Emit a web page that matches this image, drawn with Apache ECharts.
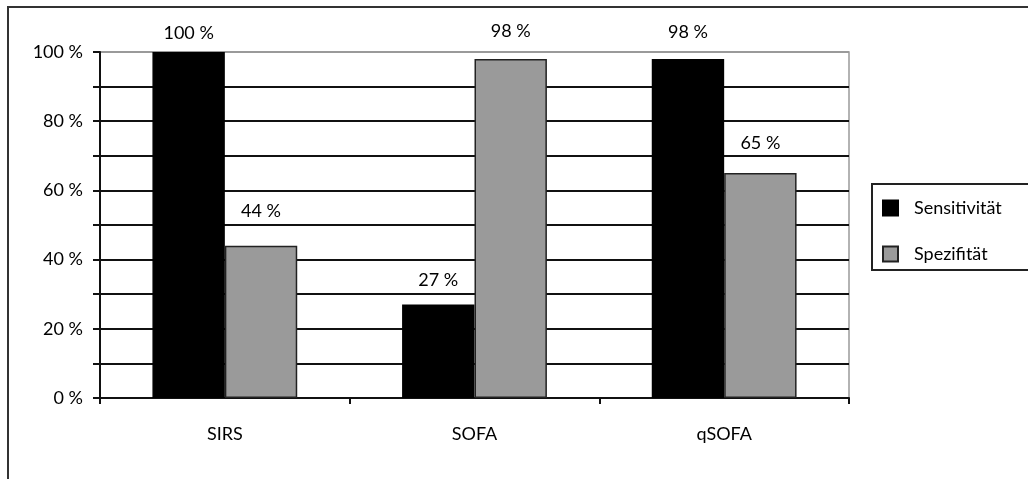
<!DOCTYPE html>
<html>
<head>
<meta charset="utf-8">
<script src="https://cdn.jsdelivr.net/npm/echarts@6/dist/echarts.min.js"></script>
<style>
  html, body { margin: 0; padding: 0; background: #fff; }
  #chart { width: 1028px; height: 479px; }
</style>
</head>
<body>
<div id="chart"></div>
<script>
// Scores compared
const categories = ['SIRS', 'SOFA', 'qSOFA'];
// Percent values per score
const sensitivity = [100, 27, 98];
const specificity = [44, 98, 65];
// Y axis labels at each 20 % step
const yTickLabels = ['0 %', '20 %', '40 %', '60 %', '80 %', '100 %'];

// Gap between each bar top and its value label (px)
const sensLabelGap = [10, 15, 18];
const specLabelGap = [26, 19, 21];

const FONT = 'Lato, "Open Sans", sans-serif';
const FS = 18;
const labelStyle = { color: '#000', fontSize: FS, fontFamily: FONT, lineHeight: 18 };

function withLabels(values, gaps) {
  return values.map((v, i) => ({
    value: v,
    label: { distance: gaps[i] }
  }));
}

// grid lines: black every 10 %, grey frame line at the top
const splitColors = [];
for (let i = 0; i <= 10; i++) splitColors.push(i === 10 ? '#9a9a9a' : '#111');

const chart = echarts.init(document.getElementById('chart'), null, { renderer: 'canvas' });
chart.setOption({
  animation: false,
  backgroundColor: '#fff',
  textStyle: { fontFamily: FONT },
  graphic: [
    {
      type: 'rect',
      shape: { x: 8, y: 7, width: 1060, height: 520 },
      style: { fill: 'none', stroke: '#333', lineWidth: 2 },
      silent: true
    },
    {
      type: 'rect',
      shape: { x: 872, y: 184, width: 180, height: 86 },
      style: { fill: '#fff', stroke: '#222', lineWidth: 2 },
      silent: true,
      z: 0
    }
  ],
  legend: {
    orient: 'vertical',
    left: 882,
    top: 199,
    itemWidth: 15,
    itemHeight: 15,
    itemGap: 28,
    icon: 'rect',
    padding: 0,
    textStyle: { color: '#000', fontSize: FS, fontFamily: FONT, padding: [0, 0, 0, 11] },
    data: ['Sensitivität', 'Spezifität'],
    z: 5
  },
  grid: {
    left: 100,
    right: 179,
    top: 52,
    bottom: 81,
    show: true,
    borderColor: '#9a9a9a',
    borderWidth: 1.5,
    backgroundColor: 'transparent'
  },
  xAxis: {
    type: 'category',
    data: categories,
    axisLine: { show: true, lineStyle: { color: '#111', width: 2 } },
    axisTick: { show: true, length: 6, alignWithLabel: false, lineStyle: { color: '#111', width: 2 } },
    axisLabel: { color: '#000', fontSize: FS, fontFamily: FONT, margin: 27 },
    splitLine: { show: false }
  },
  yAxis: {
    type: 'value',
    min: 0,
    max: 100,
    interval: 10,
    axisLine: { show: true, lineStyle: { color: '#111', width: 2 } },
    axisTick: { show: true, length: 7, lineStyle: { color: '#111', width: 2 } },
    axisLabel: {
      color: '#000', fontSize: FS, fontFamily: FONT, margin: 17,
      formatter: v => (v % 20 === 0 ? yTickLabels[v / 20] : '')
    },
    splitLine: { show: true, lineStyle: { color: splitColors, width: 2 } }
  },
  series: [
    {
      name: 'Sensitivität',
      type: 'bar',
      data: withLabels(sensitivity, sensLabelGap),
      barGap: '0%',
      barCategoryGap: '42%',
      itemStyle: { color: '#000', borderColor: '#000', borderWidth: 1.5 },
      label: { show: true, position: 'top', formatter: p => p.value + ' %', ...labelStyle }
    },
    {
      name: 'Spezifität',
      type: 'bar',
      data: withLabels(specificity, specLabelGap),
      barGap: '0%',
      barCategoryGap: '42%',
      itemStyle: { color: '#9a9a9a', borderColor: '#222', borderWidth: 1.5 },
      label: { show: true, position: 'top', formatter: p => p.value + ' %', ...labelStyle }
    }
  ]
});
</script>
</body>
</html>
